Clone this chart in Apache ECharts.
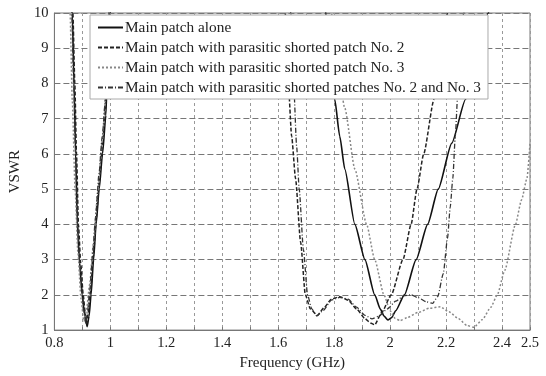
<!DOCTYPE html>
<html>
<head>
<meta charset="utf-8">
<script src="https://cdn.jsdelivr.net/npm/echarts@6/dist/echarts.min.js"></script>
<style>
  html, body { margin: 0; padding: 0; background: #fff; }
  #chart { width: 546px; height: 376px; }
</style>
</head>
<body>
<div id="chart"></div>
<script>
// VSWR vs frequency, [GHz, VSWR], '-' breaks the line between bands
const mainAlone = [
  [0.858, 11], [0.864, 10], [0.870, 8], [0.876, 6], [0.882, 4], [0.890, 2.9], [0.899, 2.0],
  [0.908, 1.45], [0.917, 1.1], [0.924, 1.4], [0.931, 2.0], [0.940, 3.0], [0.949, 4.0],
  [0.960, 5.0], [0.972, 6.0], [0.984, 7.1], [0.990, 8.5], [0.995, 10], [1.0, 11],
  [1.3, '-'],
  [1.76, 11], [1.77, 10], [1.785, 8.8], [1.802, 7.55], [1.82, 6.5], [1.838, 5.57],
  [1.874, 4.0], [1.91, 3.0], [1.945, 2.0], [1.965, 1.6], [1.978, 1.4], [1.992, 1.29],
  [2.005, 1.35], [2.02, 1.55], [2.051, 2.0], [2.093, 3.0], [2.134, 4.0], [2.172, 5.0],
  [2.22, 6.3], [2.27, 7.55], [2.31, 8.8], [2.351, 10], [2.37, 10.6]
]
const withNo2 = [
  [0.860, 11], [0.866, 10], [0.873, 8], [0.879, 6], [0.886, 4], [0.894, 2.9], [0.903, 2.0],
  [0.910, 1.5], [0.915, 1.15], [0.921, 1.5], [0.929, 2.1], [0.939, 3.1], [0.950, 4.2],
  [0.962, 5.4], [0.974, 6.5], [0.986, 7.6], [0.995, 9], [1.0, 10], [1.005, 11],
  [1.3, '-'],
  [1.618, 11], [1.625, 10], [1.636, 8], [1.648, 6.5], [1.662, 5.3], [1.68, 3.5], [1.697, 2.0],
  [1.715, 1.6], [1.74, 1.42], [1.765, 1.65], [1.79, 1.88], [1.82, 1.95], [1.85, 1.85],
  [1.88, 1.6], [1.91, 1.33], [1.93, 1.2], [1.945, 1.15], [1.97, 1.5], [2.004, 2.0],
  [2.046, 3.0], [2.075, 4.0], [2.096, 5.0], [2.12, 6.0], [2.157, 7.55], [2.18, 8.8],
  [2.206, 10], [2.22, 10.7]
]
const withNo3 = [
  [0.850, 11], [0.856, 10], [0.864, 7.5], [0.874, 5], [0.884, 3.2], [0.895, 1.9],
  [0.905, 1.25], [0.915, 1.6], [0.926, 2.3], [0.940, 3.5], [0.955, 4.9], [0.970, 6.3],
  [0.985, 7.8], [1.0, 10], [1.005, 11],
  [1.3, '-'],
  [1.78, 11], [1.79, 10], [1.81, 8.6], [1.838, 7.3], [1.874, 5.57], [1.916, 4.0],
  [1.945, 3.0], [1.978, 2.0], [2.0, 1.55], [2.018, 1.33], [2.035, 1.27], [2.06, 1.35],
  [2.1, 1.5], [2.14, 1.62], [2.18, 1.66], [2.21, 1.52], [2.245, 1.32], [2.275, 1.13],
  [2.30, 1.08], [2.33, 1.3], [2.36, 1.65], [2.383, 2.0], [2.41, 2.7], [2.447, 3.97],
  [2.47, 4.7], [2.489, 5.3], [2.5, 6.3]
]
const withNo2No3 = [
  [0.856, 11], [0.862, 10], [0.869, 8], [0.876, 6], [0.883, 4], [0.891, 2.9], [0.900, 2.0],
  [0.907, 1.5], [0.912, 1.18], [0.918, 1.5], [0.926, 2.1], [0.936, 3.1], [0.947, 4.2],
  [0.959, 5.4], [0.971, 6.5], [0.983, 7.6], [0.992, 9], [0.998, 10], [1.003, 11],
  [1.3, '-'],
  [1.638, 11], [1.645, 10], [1.655, 8], [1.666, 6.2], [1.675, 5.0], [1.69, 3.3], [1.705, 2.0],
  [1.72, 1.6], [1.738, 1.4], [1.76, 1.55], [1.79, 1.85], [1.82, 1.93], [1.85, 1.88],
  [1.88, 1.65], [1.91, 1.42], [1.935, 1.32], [1.96, 1.4], [1.99, 1.6], [2.02, 1.82],
  [2.048, 1.97], [2.075, 2.0], [2.10, 1.92], [2.13, 1.8], [2.152, 1.76], [2.17, 1.95],
  [2.19, 2.6], [2.205, 3.6], [2.215, 4.5], [2.224, 5.3], [2.233, 6.5], [2.241, 7.6],
  [2.252, 9.0], [2.263, 10], [2.27, 11]
]

const seriesNames = [
  'Main patch alone',
  'Main patch with parasitic shorted patch No. 2',
  'Main patch with parasitic shorted patch No. 3',
  'Main patch with parasitic shorted patches No. 2 and No. 3'
]

const FONT = 'Liberation Serif'

let makeLine = (name, data, color, type, width) => {
  return {
    name: name,
    type: 'line',
    data: data,
    symbol: 'none',
    smooth: 0.2,
    smoothMonotone: 'x',
    connectNulls: false,
    clip: true,
    lineStyle: { color: color, type: type, width: width },
    itemStyle: { color: color }
  }
}

let chart = echarts.init(document.getElementById('chart'))

chart.setOption({
  animation: false,
  backgroundColor: '#fff',
  textStyle: { fontFamily: FONT },
  grid: {
    left: 50, right: 16, top: 13, bottom: 44,
    show: true, borderColor: '#777', borderWidth: 1
  },
  legend: {
    orient: 'vertical',
    left: 90, top: 15,
    padding: [5, 7, 4, 7],
    itemGap: 5,
    itemWidth: 25,
    itemHeight: 14,
    backgroundColor: '#fff',
    borderColor: '#aaa',
    borderWidth: 1,
    borderRadius: 0,
    itemStyle: { color: 'transparent', borderWidth: 0 },
    textStyle: { fontFamily: FONT, fontSize: 15.3, color: '#222', padding: [0, 0, 0, -3] },
    data: seriesNames
  },
  xAxis: {
    type: 'value',
    min: 0.8, max: 2.5, interval: 0.1,
    name: 'Frequency (GHz)',
    nameLocation: 'middle',
    nameGap: 23,
    nameTextStyle: { fontFamily: FONT, fontSize: 15, color: '#222' },
    axisLine: { lineStyle: { color: '#777' } },
    axisTick: { inside: true, length: 3, lineStyle: { color: '#777' } },
    axisLabel: {
      fontFamily: FONT, fontSize: 14.5, color: '#222', margin: 6,
      showMinLabel: true, showMaxLabel: true,
      formatter: (v) => {
        let n = Math.round(v * 10)
        return (n % 2 === 0 || n === 25) ? String(n / 10) : ''
      }
    },
    splitLine: { show: true, lineStyle: { color: '#999', type: [3, 3], width: 1 } }
  },
  yAxis: {
    type: 'value',
    min: 1, max: 10, interval: 1,
    name: 'VSWR',
    nameLocation: 'middle',
    nameGap: 23,
    nameTextStyle: { fontFamily: FONT, fontSize: 15, color: '#222' },
    axisLine: { show: true, lineStyle: { color: '#777' } },
    axisTick: { show: true, inside: true, length: 3, lineStyle: { color: '#777' } },
    axisLabel: { fontFamily: FONT, fontSize: 14.5, color: '#222', margin: 6 },
    splitLine: { show: true, lineStyle: { color: '#777', type: [6, 3], width: 1 } }
  },
  series: [
    makeLine(seriesNames[0], mainAlone, '#111', 'solid', 1.6),
    makeLine(seriesNames[1], withNo2, '#222', [4, 2], 1.5),
    makeLine(seriesNames[2], withNo3, '#888', [2, 2], 1.5),
    makeLine(seriesNames[3], withNo2No3, '#333', [5, 2, 1, 2], 1.3)
  ]
})
</script>
</body>
</html>
